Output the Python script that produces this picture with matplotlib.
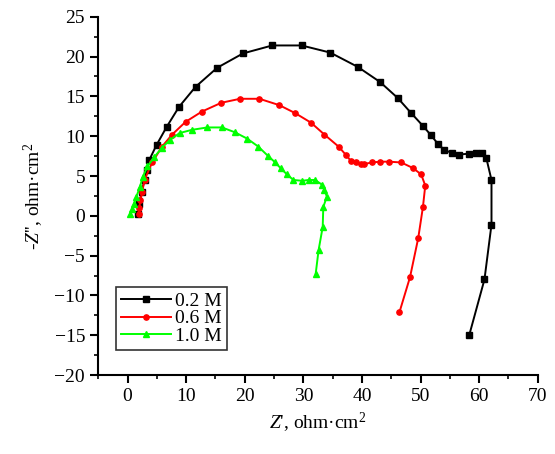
import numpy as np
import matplotlib
matplotlib.use("Agg")
import matplotlib.pyplot as plt
from matplotlib.ticker import MultipleLocator

plt.rcParams['font.family'] = ['Liberation Serif', 'DejaVu Serif']
plt.rcParams['mathtext.fontset'] = 'custom'
plt.rcParams['mathtext.rm'] = 'Liberation Serif'
plt.rcParams['mathtext.it'] = 'Liberation Serif:italic'

# Nyquist data
z_re_02 = [1.7, 2.0, 2.4, 2.9, 3.3, 3.7, 4.95, 6.7, 8.8, 11.6, 15.3, 19.7, 24.7, 29.7,
           34.6, 39.3, 43.1, 46.1, 48.4, 50.4, 51.8, 53.0, 54.0, 55.3, 56.6, 58.2,
           59.5, 60.4, 61.2, 62.1, 62.1, 60.9, 58.3]
z_im_02 = [0.2, 1.5, 3.0, 4.5, 5.8, 7.0, 8.9, 11.2, 13.7, 16.2, 18.6, 20.4, 21.4, 21.4,
           20.5, 18.7, 16.8, 14.8, 12.9, 11.3, 10.1, 9.0, 8.3, 7.9, 7.7, 7.8,
           7.9, 7.9, 7.3, 4.5, -1.1, -8.0, -15.0]

z_re_06 = [1.9, 2.0, 2.2, 2.5, 2.9, 4.2, 5.9, 7.6, 9.9, 12.7, 16.0, 19.2, 22.5, 25.9,
           28.6, 31.3, 33.6, 36.0, 37.2, 38.1, 39.0, 39.8, 40.3, 41.7, 43.1, 44.6,
           46.7, 48.7, 50.1, 50.8, 50.4, 49.6, 48.2, 46.4]
z_im_06 = [0.2, 1.0, 2.0, 3.0, 4.5, 6.7, 8.7, 10.2, 11.8, 13.1, 14.2, 14.7, 14.7, 13.9,
           12.9, 11.7, 10.2, 8.7, 7.7, 6.9, 6.7, 6.5, 6.5, 6.7, 6.8, 6.8,
           6.7, 6.0, 5.2, 3.8, 1.1, -2.8, -7.7, -12.1]

z_re_10 = [0.5, 0.8, 1.1, 1.5, 2.1, 2.6, 3.4, 4.6, 5.8, 7.2, 8.9, 11.0, 13.6, 16.1,
           18.3, 20.4, 22.3, 24.0, 25.2, 26.1, 27.2, 28.3, 29.8, 30.9, 32.0, 33.2,
           33.6, 34.0, 33.4, 33.3, 32.6, 32.1]
z_im_10 = [0.2, 0.8, 1.5, 2.4, 3.6, 4.9, 6.2, 7.4, 8.5, 9.5, 10.4, 10.8, 11.1, 11.1,
           10.5, 9.7, 8.7, 7.5, 6.7, 6.0, 5.2, 4.5, 4.4, 4.5, 4.5, 3.9,
           3.3, 2.4, 1.1, -1.4, -4.3, -7.3]

labels = ['0.2 M', '0.6 M', '1.0 M']

fig = plt.figure(figsize=(5.55, 4.54), dpi=100)
ax = fig.add_axes([0.177, 0.174, 0.792, 0.789])

ax.plot(z_re_02, z_im_02, '-s', color='black', lw=1.4, ms=3.8, label=labels[0])
ax.plot(z_re_06, z_im_06, '-o', color='red', lw=1.4, ms=3.8, label=labels[1])
ax.plot(z_re_10, z_im_10, '-^', color='#00ff00', lw=1.4, ms=3.8, label=labels[2])

ax.set_xlim(-5, 70)
ax.set_ylim(-20, 25)
ax.xaxis.set_major_locator(MultipleLocator(10))
ax.xaxis.set_minor_locator(MultipleLocator(5))
ax.yaxis.set_major_locator(MultipleLocator(5))
ax.yaxis.set_minor_locator(MultipleLocator(2.5))
ax.spines['top'].set_visible(False)
ax.spines['right'].set_visible(False)
for s in ['left', 'bottom']:
    ax.spines[s].set_linewidth(1.5)
ax.tick_params(which='major', direction='out', length=6, width=1.5, labelsize=14)
ax.tick_params(which='minor', direction='out', length=3, width=1.2)

ax.set_xlabel("$Z$', ohm·cm$^2$", fontsize=14, labelpad=4)
ax.set_ylabel("-$Z$'', ohm·cm$^2$", fontsize=14, labelpad=6)

leg = ax.legend(loc='lower left', bbox_to_anchor=(0.04, 0.07), fontsize=14,
                frameon=True, fancybox=False, edgecolor='black', handlelength=2.6,
                handletextpad=0.2, borderpad=0.25, labelspacing=0.0, borderaxespad=0)
leg.get_frame().set_linewidth(1.2)

fig.savefig('out.png', dpi=100)
